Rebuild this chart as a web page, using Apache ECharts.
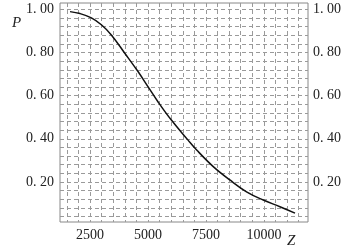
<!DOCTYPE html>
<html>
<head>
<meta charset="utf-8">
<script src="https://cdn.jsdelivr.net/npm/echarts@6/dist/echarts.min.js"></script>
<style>html,body{margin:0;padding:0;background:#fff;}#c{width:353px;height:251px;}</style>
</head>
<body>
<div id="c"></div>
<script>
var zValues = [1640, 2070, 2560, 2990, 3420, 4000, 4570, 5000, 5430, 6000, 6720, 7100, 7815, 8530, 9250, 9970, 10690, 11340];
var pValues = [0.99, 0.981, 0.961, 0.929, 0.882, 0.797, 0.712, 0.642, 0.572, 0.488, 0.395, 0.348, 0.271, 0.209, 0.154, 0.116, 0.085, 0.055];
var xTickLabels = [2500, 5000, 7500, 10000];
var yTickLabels = [0.2, 0.4, 0.6, 0.8, 1.0];
var xGridValues = [1500, 2000, 2500, 3000, 3500, 4000, 4500, 5000, 5500, 6000, 6500, 7000, 7500, 8000, 8500, 9000, 9500, 10000, 10500, 11000, 11500];
var yGridValues = [0.04, 0.08, 0.12, 0.16, 0.20, 0.24, 0.28, 0.32, 0.36, 0.40, 0.44, 0.48, 0.52, 0.56, 0.60, 0.64, 0.68, 0.72, 0.76, 0.80, 0.84, 0.88, 0.92, 0.96, 1.00];
var xName = 'Z';
var yName = 'P';

var chart = echarts.init(document.getElementById('c'), null, {renderer: 'canvas'});
var fontFam = '"Liberation Serif", "DejaVu Serif", serif';
function fmtY(v) { return v.toFixed(2).replace('.', '. '); }
function fmtX(v) { return String(v); }
var gridLine = {show: true, lineStyle: {color: '#9a9a9a', width: 1, type: [4, 3]}};
var data = zValues.map(function (z, i) { return [z, pValues[i]]; });
var nameStyle = {fontFamily: fontFam, fontStyle: 'italic', fontSize: 15, fill: '#222', align: 'left', verticalAlign: 'top'};

chart.setOption({
  animation: false,
  grid: {left: 60, right: 45, top: 3, bottom: 29, show: true, borderColor: '#888', borderWidth: 1, backgroundColor: 'transparent', outerBoundsMode: 'none', containLabel: false},
  graphic: [
    {type: 'text', left: 12, top: 16, style: Object.assign({text: yName}, nameStyle)},
    {type: 'text', left: 287, top: 234, style: Object.assign({text: xName}, nameStyle)}
  ],
  xAxis: {
    type: 'value', min: 1207, max: 11900,
    axisLine: {show: false},
    axisTick: {show: false, customValues: xGridValues},
    axisLabel: {customValues: xTickLabels, formatter: fmtX, color: '#222', fontFamily: fontFam, fontSize: 14, margin: 6},
    splitLine: gridLine
  },
  yAxis: [{
    type: 'value', min: 0.014, max: 1.03,
    axisLine: {show: false},
    axisTick: {show: false, customValues: yGridValues},
    axisLabel: {customValues: yTickLabels, formatter: fmtY, color: '#222', fontFamily: fontFam, fontSize: 14, margin: 6},
    splitLine: gridLine
  }, {
    type: 'value', min: 0.014, max: 1.03, position: 'right',
    axisLine: {show: false},
    axisTick: {show: false, customValues: yGridValues},
    axisLabel: {customValues: yTickLabels, formatter: fmtY, color: '#222', fontFamily: fontFam, fontSize: 14, margin: 5},
    splitLine: {show: false}
  }],
  series: [{
    type: 'line', data: data, smooth: 0.4, showSymbol: false,
    lineStyle: {color: '#111', width: 1.5}
  }]
});
</script>
</body>
</html>
